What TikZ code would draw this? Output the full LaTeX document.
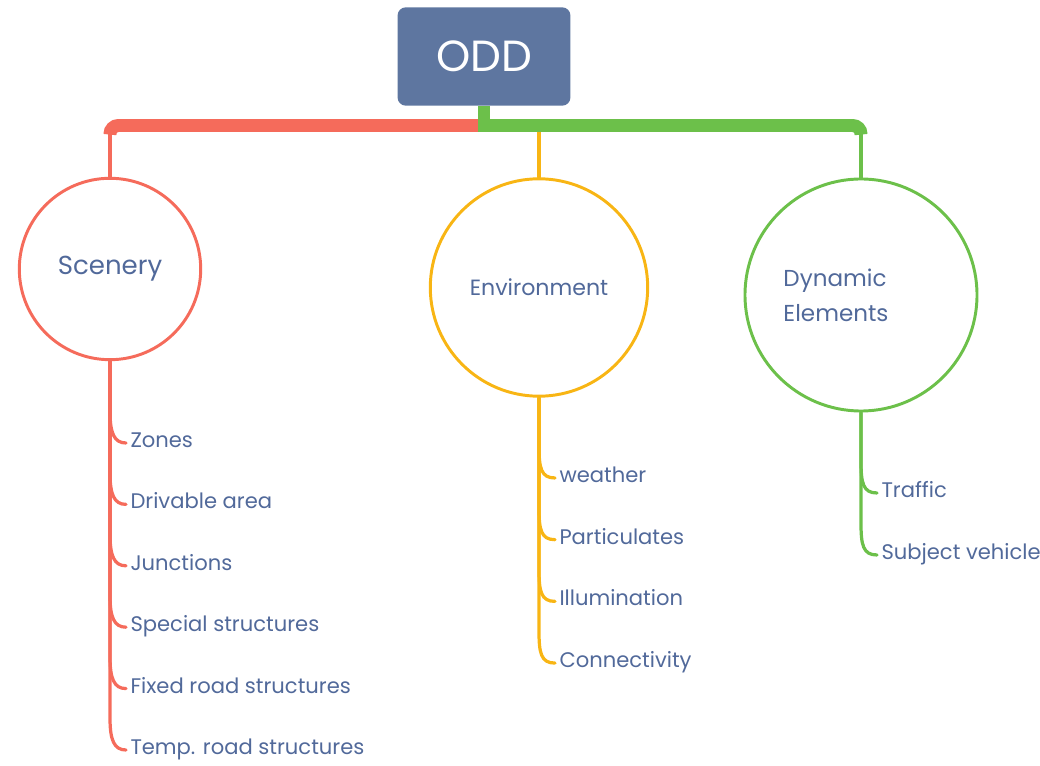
\documentclass[tikz,border=0pt]{standalone}
\usepackage{fontspec}
\setmainfont{Poppins}
\usetikzlibrary{calc}

\definecolor{oddblue}{HTML}{5E76A0}
\definecolor{txtblue}{HTML}{51699A}
\definecolor{scenred}{HTML}{F56B5B}
\definecolor{envyellow}{HTML}{F8B514}
\definecolor{dyngreen}{HTML}{6CC04A}

\tikzset{
  bar/.style={line width=9.2pt},
  twig/.style={line width=2.3pt, line cap=round},
  topic/.style={circle, draw, line width=2.1pt, text=txtblue, align=left, inner sep=0pt},
  leaf/.style={anchor=west, text=txtblue, font=\fontsize{15}{17}\selectfont, inner sep=3pt, text height=10pt, text depth=3.5pt},
}

\begin{document}
\begin{tikzpicture}[x=0.025cm, y=-0.025cm]
    \useasboundingbox (0,0) rectangle (1040,766);

    % root and the three topics
    \node[fill=oddblue, rounded corners=6pt, minimum width=123pt, minimum height=70pt,
          text=white, font=\fontsize{31}{33}\selectfont] (odd) at (484,56.5) {ODD};
    \node[topic, draw=scenred, minimum size=129pt, font=\fontsize{18.5}{20}\selectfont] (scen) at (110,269) {Scenery};
    \node[topic, draw=envyellow, minimum size=154.6pt, font=\fontsize{15.7}{17}\selectfont] (env) at (539,287.5) {Environment};
    \node[topic, draw=dyngreen, minimum size=165pt] (dyn) at (861,295) {};
    \node[text=txtblue, align=left, font=\fontsize{16.4}{25}\selectfont] (dyntext) at (836,295) {Dynamic\\Elements};

    \coordinate (hub) at (484,125.5);

    % bars from the root
    \draw[bar, scenred, rounded corners=6pt] (hub) -| ($(scen.north)+(0,-45)$);
    \draw[twig, scenred] (scen.north) -- (scen.north |- hub);
    \draw[twig, envyellow] (env.north) -- (env.north |- hub);
    \draw[bar, dyngreen] (odd.south) -- (hub);
    \draw[bar, dyngreen, rounded corners=6pt] ($(hub)+(-6,0)$) -| ($(dyn.north)+(0,-45)$);
    \draw[twig, dyngreen] (dyn.north) -- (dyn.north |- hub);

    % scenery leaves
    \foreach \name/\txt [count=\i from 0] in {zones/Zones, drive/Drivable area, junc/Junctions,
            special/Special structures, fixed/Fixed road structures, temp/Temp. road structures}
    {
        \node[leaf] (\name) at (126, 443+61.4*\i) {\txt};
        \draw[twig, scenred] (scen.south) -- ($(scen.south |- \name.west)+(0,-32)$)
            .. controls +(0,22) and +(-12,0) .. (\name.west);
    }

    % environment leaves
    \foreach \name/\txt [count=\i from 0] in {weather/weather, partic/Particulates,
            illum/Illumination, connect/Connectivity}
    {
        \node[leaf] (\name) at (555, 478+61.7*\i) {\txt};
        \draw[twig, envyellow] (env.south) -- ($(env.south |- \name.west)+(0,-32)$)
            .. controls +(0,22) and +(-14,0) .. (\name.west);
    }

    % dynamic elements leaves
    \foreach \name/\txt [count=\i from 0] in {traffic/Traffic, subject/Subject vehicle}
    {
        \node[leaf] (\name) at (877, 493+62*\i) {\txt};
        \draw[twig, dyngreen] (dyn.south) -- ($(dyn.south |- \name.west)+(0,-32)$)
            .. controls +(0,22) and +(-14,0) .. (\name.west);
    }
\end{tikzpicture}
\end{document}
